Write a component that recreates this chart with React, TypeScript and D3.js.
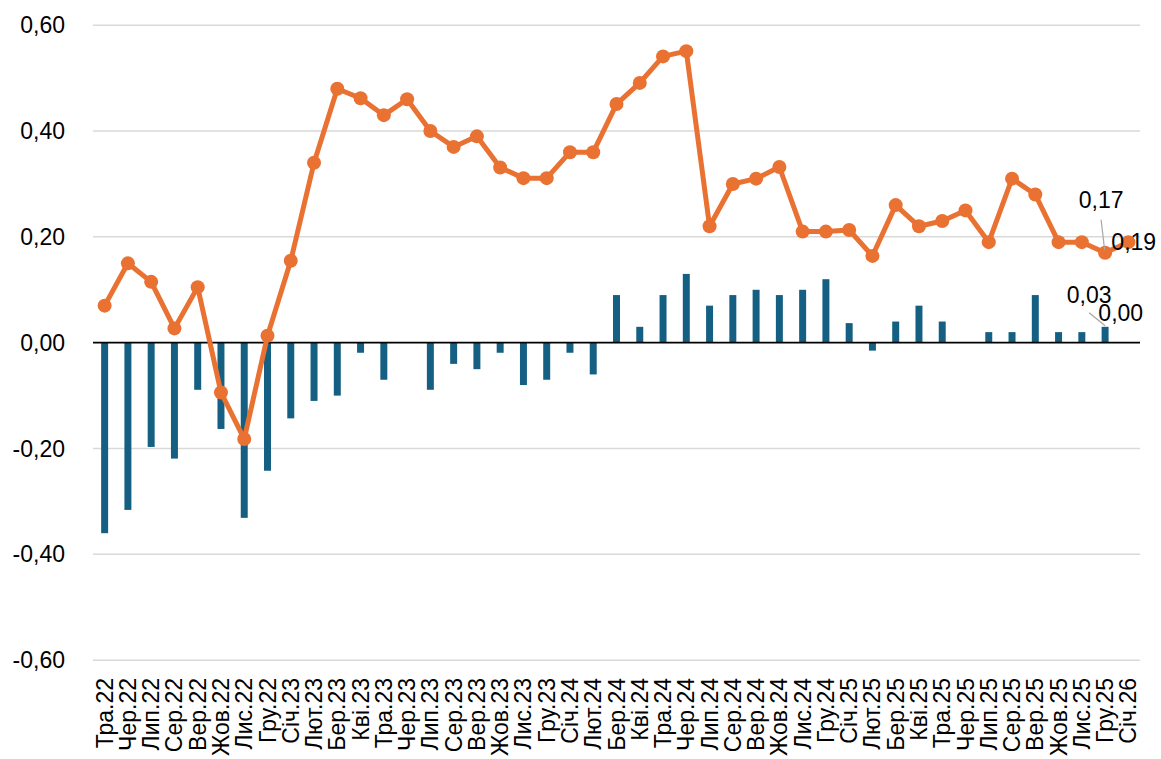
import * as d3 from "d3";
import React from "react";

const categories = [
  "Тра.22", "Чер.22", "Лип.22", "Сер.22", "Вер.22", "Жов.22", "Лис.22", "Гру.22",
  "Січ.23", "Лют.23", "Бер.23", "Кві.23", "Тра.23", "Чер.23", "Лип.23", "Сер.23",
  "Вер.23", "Жов.23", "Лис.23", "Гру.23", "Січ.24", "Лют.24", "Бер.24", "Кві.24",
  "Тра.24", "Чер.24", "Лип.24", "Сер.24", "Вер.24", "Жов.24", "Лис.24", "Гру.24",
  "Січ.25", "Лют.25", "Бер.25", "Кві.25", "Тра.25", "Чер.25", "Лип.25", "Сер.25",
  "Вер.25", "Жов.25", "Лис.25", "Гру.25", "Січ.26",
];

// orange line series
const lineValues = [
  0.07, 0.15, 0.115, 0.027, 0.105, -0.094, -0.182, 0.013, 0.155, 0.34, 0.48, 0.462,
  0.43, 0.46, 0.4, 0.37, 0.39, 0.331, 0.311, 0.311, 0.36, 0.36, 0.451, 0.491, 0.541,
  0.551, 0.22, 0.3, 0.31, 0.332, 0.21, 0.21, 0.213, 0.164, 0.26, 0.22, 0.23, 0.25,
  0.19, 0.31, 0.28, 0.19, 0.19, 0.17, 0.19,
];

// blue bar series
const barValues = [
  -0.36, -0.316, -0.197, -0.219, -0.089, -0.163, -0.331, -0.242, -0.143, -0.11, -0.1,
  -0.019, -0.07, 0, -0.089, -0.04, -0.05, -0.019, -0.08, -0.07, -0.019, -0.06, 0.09,
  0.03, 0.09, 0.13, 0.07, 0.09, 0.1, 0.09, 0.1, 0.12, 0.037, -0.015, 0.04, 0.07, 0.04,
  0, 0.02, 0.02, 0.09, 0.02, 0.02, 0.03, 0,
];

const yTicks = [-0.6, -0.4, -0.2, 0, 0.2, 0.4, 0.6];

const width = 1161;
const height = 759;
const font = "'Liberation Sans', Arial, sans-serif";
const fmt = (v: number) => v.toFixed(2).replace(".", ",");

export default function App() {
  const svgRef = React.useRef<SVGSVGElement | null>(null);

  React.useEffect(() => {
    const svg = d3.select(svgRef.current);
    svg.selectAll("*").remove();
    const margin = { left: 93, right: 21 };

    const x = d3
      .scaleBand<string>()
      .domain(categories)
      .range([margin.left, width - margin.right])
      .padding(0);
    const cx = (i: number) => (x(categories[i]) ?? 0) + x.bandwidth() / 2;

    const y = d3.scaleLinear().domain([-0.6, 0.6]).range([660.2, 25.2]);

    // gridlines
    svg
      .append("g")
      .selectAll("line")
      .data(yTicks.filter((t) => t !== 0))
      .join("line")
      .attr("x1", margin.left)
      .attr("x2", width - margin.right)
      .attr("y1", (d) => y(d))
      .attr("y2", (d) => y(d))
      .attr("stroke", "#d9d9d9")
      .attr("stroke-width", 1.5);

    // y labels
    svg
      .append("g")
      .selectAll("text")
      .data(yTicks)
      .join("text")
      .attr("x", 65)
      .attr("y", (d) => y(d))
      .attr("dy", "0.35em")
      .attr("text-anchor", "end")
      .attr("font-family", font)
      .attr("font-size", 23)
      .attr("fill", "#000")
      .text((d) => fmt(d));

    // bars
    const barW = x.bandwidth() * 0.3;
    svg
      .append("g")
      .selectAll("rect")
      .data(barValues)
      .join("rect")
      .attr("x", (_, i) => cx(i) - barW / 2)
      .attr("y", (d) => y(Math.max(0, d)))
      .attr("width", barW)
      .attr("height", (d) => Math.abs(y(d) - y(0)))
      .attr("fill", "#156082");

    // zero axis
    svg
      .append("line")
      .attr("x1", margin.left)
      .attr("x2", width - margin.right)
      .attr("y1", y(0))
      .attr("y2", y(0))
      .attr("stroke", "#000")
      .attr("stroke-width", 1.8);

    // x labels, rotated
    svg
      .append("g")
      .selectAll("text")
      .data(categories)
      .join("text")
      .attr("transform", (_, i) => `translate(${cx(i)},678) rotate(-90)`)
      .attr("dy", "0.35em")
      .attr("text-anchor", "end")
      .attr("font-family", font)
      .attr("font-size", 23)
      .attr("fill", "#000")
      .text((d) => d);

    // line + markers
    const line = d3
      .line<number>()
      .x((_, i) => cx(i))
      .y((d) => y(d));

    svg
      .append("path")
      .datum(lineValues)
      .attr("fill", "none")
      .attr("stroke", "#E97132")
      .attr("stroke-width", 5)
      .attr("stroke-linejoin", "round")
      .attr("d", line(lineValues) ?? null);

    svg
      .append("g")
      .selectAll("circle")
      .data(lineValues)
      .join("circle")
      .attr("cx", (_, i) => cx(i))
      .attr("cy", (d) => y(d))
      .attr("r", 7)
      .attr("fill", "#E97132");

    // data labels for the last points
    const n = categories.length;
    const leaders = [
      { x1: cx(n - 2) - 4, y1: y(lineValues[n - 2]) - 33, x2: cx(n - 2) - 0.5, y2: y(lineValues[n - 2]) - 3 },
      { x1: cx(n - 2) - 16, y1: y(barValues[n - 2]) - 14, x2: cx(n - 2), y2: y(barValues[n - 2]) - 1 },
    ];
    svg
      .append("g")
      .selectAll("line")
      .data(leaders)
      .join("line")
      .attr("x1", (d) => d.x1)
      .attr("y1", (d) => d.y1)
      .attr("x2", (d) => d.x2)
      .attr("y2", (d) => d.y2)
      .attr("stroke", "#a6a6a6")
      .attr("stroke-width", 1.2);

    const labels = [
      { text: fmt(lineValues[n - 2]), x: cx(n - 2) - 4, y: y(lineValues[n - 2]) - 45, anchor: "middle" },
      { text: fmt(lineValues[n - 1]), x: cx(n - 1) - 17, y: y(lineValues[n - 1]) + 8, anchor: "start" },
      { text: fmt(barValues[n - 2]), x: cx(n - 2) - 16, y: y(barValues[n - 2]) - 24, anchor: "middle" },
      { text: fmt(barValues[n - 1]), x: cx(n - 1) - 30, y: y(barValues[n - 1]) - 22, anchor: "start" },
    ];
    svg
      .append("g")
      .selectAll("text")
      .data(labels)
      .join("text")
      .attr("x", (d) => d.x)
      .attr("y", (d) => d.y)
      .attr("text-anchor", (d) => d.anchor)
      .attr("font-family", font)
      .attr("font-size", 23)
      .attr("fill", "#000")
      .text((d) => d.text);
  }, []);

  return (
    <svg
      ref={svgRef}
      width={width}
      height={height}
      viewBox={`0 0 ${width} ${height}`}
      style={{ position: "absolute", left: 0, top: 0, background: "#fff" }}
    ></svg>
  );
}
